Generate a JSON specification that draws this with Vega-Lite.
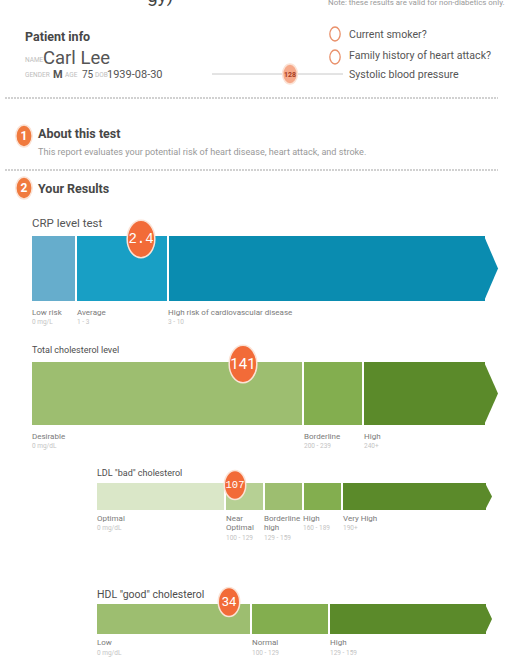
{
  "$schema": "https://vega.github.io/schema/vega-lite/v6.json",
  "width": 516,
  "height": 661,
  "padding": 0,
  "autosize": {"type": "none"},
  "background": "#ffffff",
  "config": {
    "view": {"stroke": null},
    "axisX": {"disable": true},
    "axisY": {"disable": true},
    "legend": {"disable": true}
  },
  "datasets": {
    "segs": [
      {"bar": "crp", "x": 32, "x2": 75, "y": 236, "y2": 301, "tone": "crp0"},
      {"bar": "crp", "x": 77, "x2": 167, "y": 236, "y2": 301, "tone": "crp1"},
      {"bar": "crp", "x": 169, "x2": 485, "y": 236, "y2": 301, "tone": "crp2"},
      {"bar": "total", "x": 32, "x2": 302, "y": 362, "y2": 425, "tone": "g2"},
      {"bar": "total", "x": 304, "x2": 362, "y": 362, "y2": 425, "tone": "g3"},
      {"bar": "total", "x": 364, "x2": 485, "y": 362, "y2": 425, "tone": "g4"},
      {"bar": "ldl", "x": 97, "x2": 224, "y": 483, "y2": 510, "tone": "g0"},
      {"bar": "ldl", "x": 226, "x2": 263, "y": 483, "y2": 510, "tone": "g1"},
      {"bar": "ldl", "x": 265, "x2": 302, "y": 483, "y2": 510, "tone": "g2"},
      {"bar": "ldl", "x": 304, "x2": 341, "y": 483, "y2": 510, "tone": "g3"},
      {"bar": "ldl", "x": 343, "x2": 486, "y": 483, "y2": 510, "tone": "g4"},
      {"bar": "hdl", "x": 97, "x2": 250, "y": 604, "y2": 634, "tone": "g2"},
      {"bar": "hdl", "x": 252, "x2": 328, "y": 604, "y2": 634, "tone": "g3"},
      {"bar": "hdl", "x": 330, "x2": 486, "y": 604, "y2": 634, "tone": "g4"}
    ],
    "tips": [
      {"bar": "crp", "x": 484, "y": 236, "y2": 301, "tone": "crp2"},
      {"bar": "crp", "x": 498, "y": 268.5, "y2": 268.5, "tone": "crp2"},
      {"bar": "total", "x": 484, "y": 362, "y2": 425, "tone": "g4"},
      {"bar": "total", "x": 498, "y": 393.5, "y2": 393.5, "tone": "g4"},
      {"bar": "ldl", "x": 485, "y": 483, "y2": 510, "tone": "g4"},
      {"bar": "ldl", "x": 492, "y": 496.5, "y2": 496.5, "tone": "g4"},
      {"bar": "hdl", "x": 485, "y": 604, "y2": 634, "tone": "g4"},
      {"bar": "hdl", "x": 492, "y": 619, "y2": 619, "tone": "g4"}
    ],
    "lines": [
      {"kind": "divider", "x": 5, "x2": 498, "y": 98},
      {"kind": "divider", "x": 5, "x2": 498, "y": 170},
      {"kind": "slider", "x": 212, "x2": 343, "y": 74}
    ],
    "dots": [
      {"x": 24, "y": 136, "role": "dot_section"},
      {"x": 24, "y": 188, "role": "dot_section"},
      {"x": 290, "y": 74, "role": "dot_slider"},
      {"x": 141, "y": 239, "role": "dot_major"},
      {"x": 243, "y": 364, "role": "dot_major"},
      {"x": 235, "y": 485, "role": "dot_minor"},
      {"x": 229, "y": 602, "role": "dot_minor"}
    ],
    "rings": [
      {"x": 335, "y": 34, "question": "smoker"},
      {"x": 335, "y": 57, "question": "family"}
    ],
    "texts": [
      {"x": 147, "y": -4, "text": "gy)", "role": "cut"},
      {"x": 328, "y": 3, "text": "Note: these results are valid for non-diabetics only.", "role": "note"},
      {"x": 25, "y": 37, "text": "Patient info", "role": "h1"},
      {"x": 25, "y": 60, "text": "NAME", "role": "tiny"},
      {"x": 43, "y": 58, "text": "Carl Lee", "role": "name"},
      {"x": 25, "y": 75, "text": "GENDER", "role": "tiny"},
      {"x": 53, "y": 75, "text": "M", "role": "info_bold"},
      {"x": 65, "y": 75, "text": "AGE", "role": "tiny"},
      {"x": 82, "y": 75, "text": "75", "role": "info_small"},
      {"x": 95, "y": 75, "text": "DOB", "role": "tiny"},
      {"x": 107, "y": 75, "text": "1939-08-30", "role": "info"},
      {"x": 349, "y": 35, "text": "Current smoker?", "role": "question"},
      {"x": 349, "y": 56, "text": "Family history of heart attack?", "role": "question"},
      {"x": 349, "y": 75, "text": "Systolic blood pressure", "role": "question"},
      {"x": 290, "y": 74.5, "text": "128", "role": "slider"},
      {"x": 24, "y": 136, "text": "1", "role": "secnum"},
      {"x": 38, "y": 134, "text": "About this test", "role": "h1"},
      {"x": 38, "y": 152, "text": "This report evaluates your potential risk of heart disease, heart attack, and stroke.", "role": "desc"},
      {"x": 24, "y": 188, "text": "2", "role": "secnum"},
      {"x": 38, "y": 189, "text": "Your Results", "role": "h1"},
      {"x": 32, "y": 224, "text": "CRP level test", "role": "title_big"},
      {"x": 32, "y": 313, "text": "Low risk", "role": "label"},
      {"x": 32, "y": 322, "text": "0 mg/L", "role": "range"},
      {"x": 77, "y": 313, "text": "Average", "role": "label"},
      {"x": 77, "y": 322, "text": "1 - 3", "role": "range"},
      {"x": 168, "y": 313, "text": "High risk of cardiovascular disease", "role": "label"},
      {"x": 168, "y": 322, "text": "3 - 10", "role": "range"},
      {"x": 141, "y": 239, "text": "2.4", "role": "val_mono_big"},
      {"x": 32, "y": 350, "text": "Total cholesterol level", "role": "title"},
      {"x": 32, "y": 437, "text": "Desirable", "role": "label"},
      {"x": 32, "y": 446, "text": "0 mg/dL", "role": "range"},
      {"x": 304, "y": 437, "text": "Borderline", "role": "label"},
      {"x": 304, "y": 446, "text": "200 - 239", "role": "range"},
      {"x": 364, "y": 437, "text": "High", "role": "label"},
      {"x": 364, "y": 446, "text": "240+", "role": "range"},
      {"x": 243, "y": 364, "text": "141", "role": "val_big"},
      {"x": 97, "y": 473, "text": "LDL \"bad\" cholesterol", "role": "title"},
      {"x": 97, "y": 519, "text": "Optimal", "role": "label"},
      {"x": 97, "y": 528, "text": "0 mg/dL", "role": "range"},
      {"x": 226, "y": 519, "text": "Near", "role": "label"},
      {"x": 226, "y": 528, "text": "Optimal", "role": "label"},
      {"x": 226, "y": 538, "text": "100 - 129", "role": "range"},
      {"x": 264, "y": 519, "text": "Borderline", "role": "label"},
      {"x": 264, "y": 528, "text": "high", "role": "label"},
      {"x": 264, "y": 538, "text": "129 - 159", "role": "range"},
      {"x": 303, "y": 519, "text": "High", "role": "label"},
      {"x": 303, "y": 528, "text": "160 - 189", "role": "range"},
      {"x": 343, "y": 519, "text": "Very High", "role": "label"},
      {"x": 343, "y": 528, "text": "190+", "role": "range"},
      {"x": 235, "y": 485, "text": "107", "role": "val_mono_small"},
      {"x": 97, "y": 595, "text": "HDL \"good\" cholesterol", "role": "title_hdl"},
      {"x": 97, "y": 643, "text": "Low", "role": "label"},
      {"x": 97, "y": 653, "text": "0 mg/dL", "role": "range"},
      {"x": 252, "y": 643, "text": "Normal", "role": "label"},
      {"x": 252, "y": 653, "text": "100 - 129", "role": "range"},
      {"x": 330, "y": 643, "text": "High", "role": "label"},
      {"x": 330, "y": 653, "text": "129 - 159", "role": "range"},
      {"x": 229, "y": 602, "text": "34", "role": "val_small"}
    ]
  },
  "encoding": {
    "x": {"field": "x", "type": "quantitative", "scale": {"domain": [0, 516], "nice": false, "zero": false}},
    "y": {"field": "y", "type": "quantitative", "scale": {"domain": [0, 661], "nice": false, "zero": false, "reverse": true}}
  },
  "layer": [
    {
      "data": {"name": "lines"},
      "transform": [{"filter": "datum.kind === 'divider'"}],
      "mark": {"type": "rule", "color": "#a3a3a3", "strokeWidth": 1.2, "strokeDash": [2, 1]},
      "encoding": {"x2": {"field": "x2"}}
    },
    {
      "data": {"name": "lines"},
      "transform": [{"filter": "datum.kind === 'slider'"}],
      "mark": {"type": "rule", "color": "#c8c8c8", "strokeWidth": 1},
      "encoding": {"x2": {"field": "x2"}}
    },
    {
      "data": {"name": "segs"},
      "mark": {"type": "rect"},
      "encoding": {
        "x2": {"field": "x2"},
        "y2": {"field": "y2"},
        "color": {"field": "tone", "type": "nominal", "scale": {"type": "ordinal", "domain": ["crp0", "crp1", "crp2", "g0", "g1", "g2", "g3", "g4"], "range": ["#66adcc", "#189fc5", "#0a8cb0", "#dae7c8", "#b6d094", "#9dbe70", "#83ae4f", "#5b8a2a"]}}
      }
    },
    {
      "data": {"name": "tips"},
      "mark": {"type": "area", "orient": "vertical"},
      "encoding": {
        "y": {"field": "y", "type": "quantitative", "stack": null},
        "y2": {"field": "y2"},
        "detail": {"field": "bar"},
        "color": {"field": "tone", "type": "nominal", "scale": {"type": "ordinal", "domain": ["crp0", "crp1", "crp2", "g0", "g1", "g2", "g3", "g4"], "range": ["#66adcc", "#189fc5", "#0a8cb0", "#dae7c8", "#b6d094", "#9dbe70", "#83ae4f", "#5b8a2a"]}}
      }
    },
    {
      "data": {"name": "rings"},
      "mark": {"type": "point", "shape": "M-0.74,0A0.74,1,0,1,0,0.74,0A0.74,1,0,1,0,-0.74,0Z", "size": 196, "filled": false, "stroke": "#e9906a", "strokeWidth": 1.3, "opacity": 1}
    },
    {
      "data": {"name": "dots"},
      "mark": {"type": "point", "shape": "M-0.74,0A0.74,1,0,1,0,0.74,0A0.74,1,0,1,0,-0.74,0Z", "filled": true, "opacity": 1, "stroke": "#fbe3d6", "strokeWidth": 1.5},
      "encoding": {
        "fill": {"field": "role", "type": "nominal", "scale": {"type": "ordinal", "domain": ["dot_major", "dot_minor", "dot_section", "dot_slider"], "range": ["#f26b38", "#f26b38", "#f07a3e", "#f6a98a"]}},
        "size": {"field": "role", "type": "ordinal", "scale": {"type": "ordinal", "domain": ["dot_major", "dot_minor", "dot_section", "dot_slider"], "range": [1400, 841, 484, 400]}}
      }
    },
    {
      "data": {"name": "texts"},
      "transform": [{"filter": {"field": "role", "oneOf": ["cut", "note", "name", "tiny", "info", "info_small", "question", "desc", "title_big", "title", "title_hdl", "label", "range"]}}],
      "mark": {"type": "text", "align": "left", "baseline": "middle", "font": "Roboto, sans-serif"},
      "encoding": {
        "text": {"field": "text"},
        "color": {"field": "role", "type": "nominal", "scale": {"type": "ordinal", "domain": ["cut", "note", "name", "tiny", "info", "info_small", "question", "desc", "title_big", "title", "title_hdl", "label", "range"], "range": ["#444444", "#9a9a9a", "#555555", "#bdbdbd", "#555555", "#555555", "#555555", "#999999", "#555555", "#4d4d4d", "#4d4d4d", "#7a7a7a", "#c4c4c4"]}},
        "size": {"field": "role", "type": "ordinal", "scale": {"type": "ordinal", "domain": ["cut", "note", "name", "tiny", "info", "info_small", "question", "desc", "title_big", "title", "title_hdl", "label", "range"], "range": [19, 7.9, 18.5, 6.5, 11, 10, 10.6, 9.1, 11.5, 9, 10.5, 8, 6.5]}}
      }
    },
    {
      "data": {"name": "texts"},
      "transform": [{"filter": {"field": "role", "oneOf": ["h1", "info_bold"]}}],
      "mark": {"type": "text", "align": "left", "baseline": "middle", "fontWeight": "bold", "font": "Roboto, sans-serif"},
      "encoding": {
        "text": {"field": "text"},
        "color": {"field": "role", "type": "nominal", "scale": {"type": "ordinal", "domain": ["h1", "info_bold"], "range": ["#474747", "#555555"]}},
        "size": {"field": "role", "type": "ordinal", "scale": {"type": "ordinal", "domain": ["h1", "info_bold"], "range": [12.5, 11]}}
      }
    },
    {
      "data": {"name": "texts"},
      "transform": [{"filter": {"field": "role", "oneOf": ["secnum", "slider"]}}],
      "mark": {"type": "text", "align": "center", "baseline": "middle", "fontWeight": "bold", "font": "Roboto, sans-serif"},
      "encoding": {
        "text": {"field": "text"},
        "color": {"field": "role", "type": "nominal", "scale": {"type": "ordinal", "domain": ["secnum", "slider"], "range": ["#ffffff", "#a53a1e"]}},
        "size": {"field": "role", "type": "ordinal", "scale": {"type": "ordinal", "domain": ["secnum", "slider"], "range": [12, 7]}}
      }
    },
    {
      "data": {"name": "texts"},
      "transform": [{"filter": {"field": "role", "oneOf": ["val_mono_big", "val_mono_small"]}}],
      "mark": {"type": "text", "align": "center", "baseline": "middle", "color": "#ffffff", "font": "Liberation Mono, DejaVu Sans Mono, monospace"},
      "encoding": {
        "text": {"field": "text"},
        "size": {"field": "role", "type": "ordinal", "scale": {"type": "ordinal", "domain": ["val_mono_big", "val_mono_small"], "range": [14, 10.5]}}
      }
    },
    {
      "data": {"name": "texts"},
      "transform": [{"filter": {"field": "role", "oneOf": ["val_big", "val_small"]}}],
      "mark": {"type": "text", "align": "center", "baseline": "middle", "color": "#ffffff", "font": "Roboto, sans-serif"},
      "encoding": {
        "text": {"field": "text"},
        "size": {"field": "role", "type": "ordinal", "scale": {"type": "ordinal", "domain": ["val_big", "val_small"], "range": [15, 13]}}
      }
    }
  ],
  "resolve": {"scale": {"color": "independent", "size": "independent", "fill": "independent"}}
}
